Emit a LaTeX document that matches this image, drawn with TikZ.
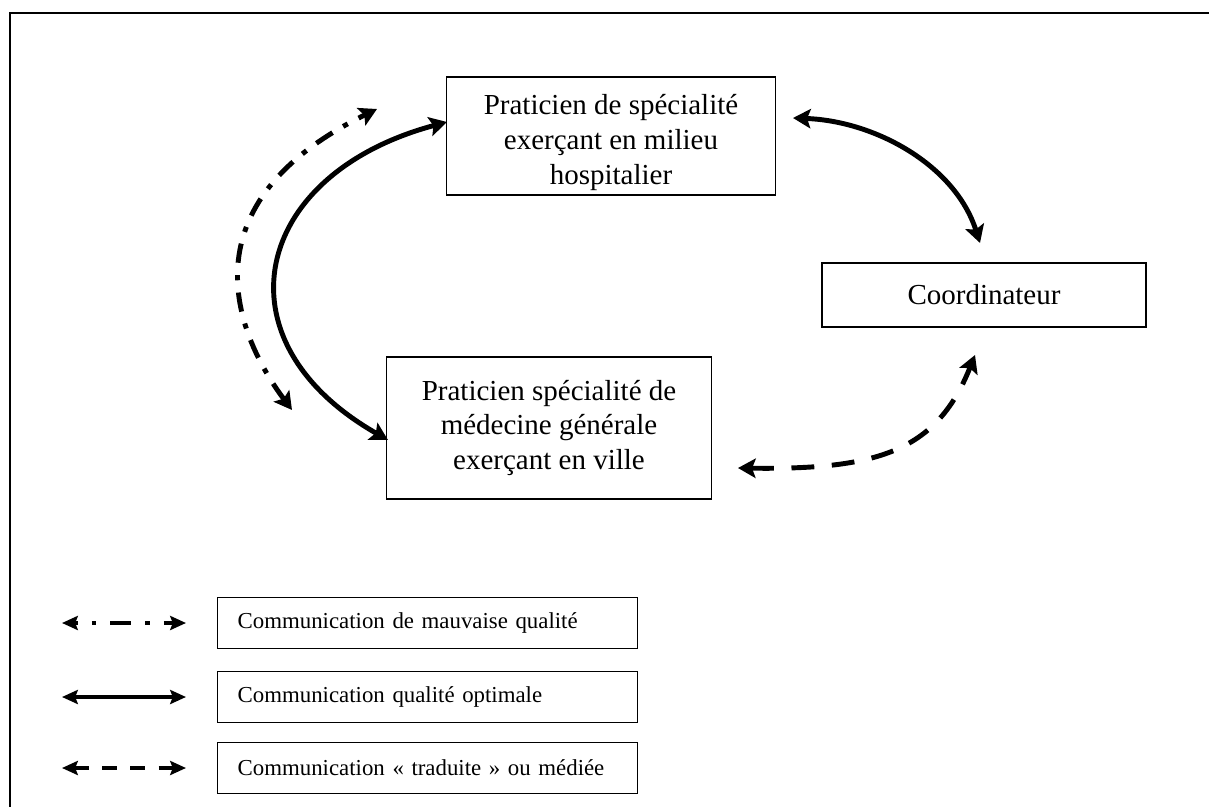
\documentclass[tikz,border=0pt]{standalone}
\usepackage{fontspec}
\setmainfont{Liberation Serif}
\usetikzlibrary{arrows.meta}

\tikzset{
	acteur/.style={draw, line width=0.8pt, align=center, inner sep=0pt, font=\fontsize{16.5}{19.8}\selectfont},
	legende/.style={draw, line width=0.8pt, anchor=west, align=left, inner xsep=0.4cm, text width=7.6cm, minimum height=1.02cm, font=\fontsize{13}{15}\selectfont},
	grosse/.style={line width=2.8pt, {Stealth[length=10pt,width=11pt,inset=2pt]}-{Stealth[length=10pt,width=11pt,inset=2pt]}},
	fine/.style={line width=2pt, {Stealth[length=9pt,width=8pt,inset=1.5pt]}-{Stealth[length=9pt,width=8pt,inset=1.5pt]}},
	mauvaise/.style={dash pattern=on 11pt off 7pt on 3pt off 7pt},
	traduite/.style={dash pattern=on 13pt off 10pt},
	traduitefine/.style={dash pattern=on 8.5pt off 7.5pt}
}

\begin{document}
\begin{tikzpicture}[x=0.02cm, y=-0.02cm]
			\useasboundingbox (0,0) rectangle (1209,807);
			\draw[line width=1.6pt] (10,807) -- (10,13) -- (1209,13);

			\node[acteur, minimum width=6.58cm, minimum height=2.36cm] (hosp) at (611,136) {\rule{0pt}{19pt}Praticien de spécialité\\exerçant en milieu\\hospitalier};
			\node[acteur, minimum width=6.48cm, minimum height=1.28cm] (coord) at (984,295) {Coordinateur};
			\node[acteur, minimum width=6.5cm, minimum height=2.84cm] (ville) at (549,428) {Praticien spécialité de\\médecine générale\\exerçant en ville};

			\coordinate (mh) at (377,109);
			\coordinate (mv) at (292,410);
			\coordinate (oh) at (447,122);
			\coordinate (ov) at (388,440);
			\coordinate (hc) at (793,118);
			\coordinate (ch) at (980,243);
			\coordinate (cv) at (975,355);
			\coordinate (vc) at (738,468);

			\draw[grosse, mauvaise] (mv) .. controls (233,331) and (185,203) .. (mh);
			\draw[grosse] (ov) .. controls (213,340) and (253,174) .. (oh);
			\draw[grosse] (hc) .. controls (875,121) and (955,165) .. (ch);
			\draw[grosse, traduite] (vc) .. controls (880,470) and (937,450) .. (cv);

			\node[legende] (leg1) at (217,623) {Communication de mauvaise qualité};
			\node[legende] (leg2) at (217,697) {Communication qualité optimale};
			\node[legende] (leg3) at (217,768) {Communication « traduite » ou médiée};

			\coordinate (l1a) at (62,623);
			\coordinate (l1b) at (186,623);
			\coordinate (l2a) at (62,697);
			\coordinate (l2b) at (186,697);
			\coordinate (l3a) at (62,768);
			\coordinate (l3b) at (186,768);
			\draw[fine, dash pattern=on 2pt off 8pt on 2.5pt off 8pt on 12pt off 8pt on 2.5pt off 8pt on 20pt] (l1a) -- (l1b);
			\draw[fine] (l2a) -- (l2b);
			\draw[fine, traduitefine] (l3a) -- (l3b);
		\end{tikzpicture}
\end{document}
